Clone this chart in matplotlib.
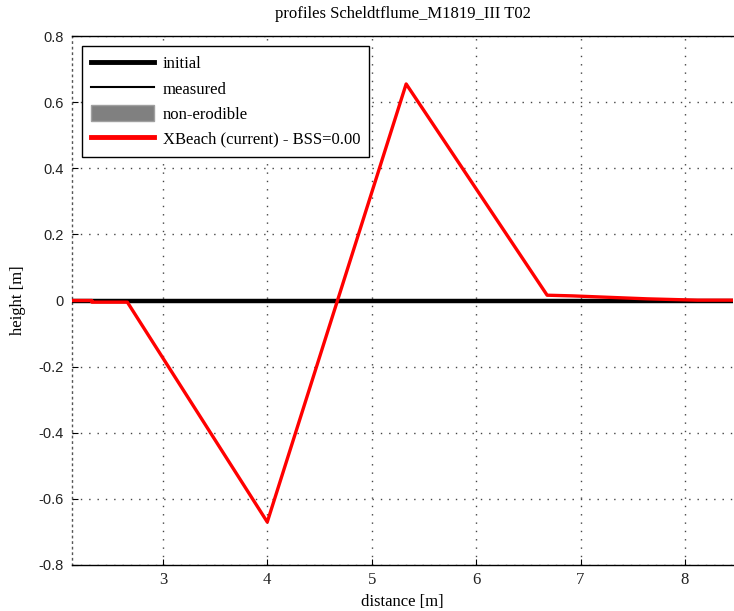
import matplotlib
matplotlib.use("Agg")
import matplotlib.pyplot as plt
from matplotlib.patches import Patch
from matplotlib.lines import Line2D

# data
initial_x = [2.13, 8.46]
initial_y = [0.0, 0.0]
xbeach_x = [2.13, 2.32, 2.32, 2.66, 4.00, 5.33, 6.68, 6.92, 7.16, 7.40, 7.64, 7.88, 8.12, 8.46]
xbeach_y = [0.0, 0.0, -0.005, -0.005, -0.67, 0.655, 0.016, 0.014, 0.011, 0.008, 0.005, 0.003, 0.001, 0.001]
xticks = [3, 4, 5, 6, 7, 8]
yticks = [-0.8, -0.6, -0.4, -0.2, 0, 0.2, 0.4, 0.6, 0.8]
ytick_labels = ["-0.8", "-0.6", "-0.4", "-0.2", "0", "0.2", "0.4", "0.6", "0.8"]
legend_labels = ["initial", "measured", "non-erodible", "XBeach (current) - BSS=0.00"]
title = "profiles Scheldtflume_M1819_III T02"

serif = "Liberation Serif"
sans = "Liberation Sans"

fig = plt.figure(figsize=(7.34, 6.11), dpi=100)
W, H = 734, 611
left, right, top, bottom = 72, 733, 36, 565
ax = fig.add_axes([left / W, 1 - bottom / H, (right - left) / W, (bottom - top) / H])

ax.plot(initial_x, initial_y, color="black", lw=3.2, zorder=3)
ax.plot(xbeach_x, xbeach_y, color="#ff0000", lw=2.4, zorder=4)

ax.set_xlim(2.13, 8.46)
ax.set_ylim(-0.8, 0.8)
ax.set_xticks(xticks)
ax.set_xticklabels([str(t) for t in xticks], fontfamily=serif, fontsize=12)
ax.set_yticks(yticks)
ax.set_yticklabels(ytick_labels, fontfamily=sans, fontsize=10.5, color="#333333")
ax.tick_params(direction="in", length=4, width=0.8, colors="black", labelcolor="#222222")
ax.tick_params(axis="y", pad=6)
ax.tick_params(axis="x", pad=5)
ax.grid(True, linestyle=(0, (1, 5)), color="#444444", lw=1.0)
for s in ["left", "bottom", "top"]:
    ax.spines[s].set_linewidth(1.0)
ax.spines["right"].set_visible(False)
ax.spines["left"].set_linestyle((0, (1, 3)))
ax.spines["left"].set_color("#555555")

ax.set_title(title, fontfamily=serif, fontsize=12, pad=13)
ax.set_xlabel("distance [m]", fontfamily=serif, fontsize=12, labelpad=4)
ax.set_ylabel("height [m]", fontfamily=serif, fontsize=12, labelpad=9)

handles = [
    Line2D([], [], color="black", lw=3.5),
    Line2D([], [], color="black", lw=1.5),
    Patch(facecolor="#808080", edgecolor="#a0a0a0"),
    Line2D([], [], color="#ff0000", lw=3.5),
]
leg = ax.legend(handles, legend_labels, loc="upper left", bbox_to_anchor=(0.015, 0.982),
                prop={"family": serif, "size": 12}, frameon=True, fancybox=False,
                handlelength=3.8, handleheight=1.1, labelspacing=0.45, borderpad=0.55,
                handletextpad=0.5, borderaxespad=0)
leg.get_frame().set_edgecolor("black")
leg.get_frame().set_linewidth(1.0)
leg.get_frame().set_alpha(1)

fig.savefig("out.png", dpi=100, facecolor="white")
